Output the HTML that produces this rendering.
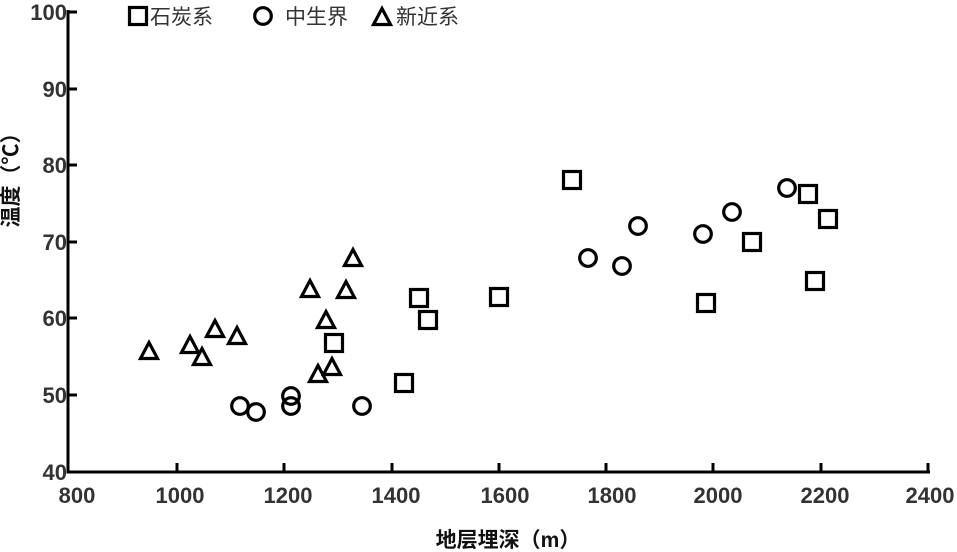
<!DOCTYPE html>
<html><head><meta charset="utf-8"><style>
body{margin:0;background:#fff}
svg{display:block}
text{font-family:"Liberation Sans","Noto Sans CJK SC",sans-serif}
</style></head><body>
<svg width="957" height="552" xmlns="http://www.w3.org/2000/svg">
<defs>
<rect id="s" x="-8.5" y="-8.5" width="17" height="17" fill="none" stroke="#000" stroke-width="3.2"/>
<circle id="c" r="8.3" fill="none" stroke="#000" stroke-width="3.2"/>
<polygon id="t" points="0,-9.5 8.5,6.5 -8.5,6.5" fill="none" stroke="#000" stroke-width="3.2" stroke-linejoin="miter"/>
</defs>
<g stroke="#000" stroke-width="3" fill="none">
<path d="M68,10 V472 H930"/>
<path d="M68,12 H77 M68,89 H77 M68,165 H77 M68,242 H77 M68,318 H77 M68,395 H77"/>
<path d="M177,472 V463 M284,472 V463 M392,472 V463 M499,472 V463 M606,472 V463 M713,472 V463 M821,472 V463 M928,472 V463"/>
</g>
<g font-size="22" font-weight="bold" fill="#333" text-anchor="end">
<text x="67" y="20">100</text><text x="67" y="97">90</text><text x="67" y="173">80</text>
<text x="67" y="250">70</text><text x="67" y="326">60</text><text x="67" y="403">50</text><text x="67" y="480">40</text>
</g>
<g font-size="22" font-weight="bold" fill="#333" text-anchor="middle">
<text x="77" y="503">800</text><text x="180" y="503">1000</text><text x="288" y="503">1200</text>
<text x="396" y="503">1400</text><text x="505" y="503">1600</text><text x="612" y="503">1800</text>
<text x="718" y="503">2000</text><text x="825" y="503">2200</text><text x="930" y="503">2400</text>
<text x="508" y="547" font-size="21" fill="#111">地层埋深（m）</text>
<text transform="translate(18,175) rotate(-90)" font-size="21" fill="#111">温度（℃）</text>
</g>
<g font-size="21" fill="#333">
<use href="#s" x="138" y="16"/><text x="150" y="24">石炭系</text>
<use href="#c" x="263" y="16"/><text x="285" y="24">中生界</text>
<use href="#t" x="382" y="18"/><text x="396" y="24">新近系</text>
</g>
<g>
<use href="#s" x="334" y="343"/><use href="#s" x="419" y="298"/><use href="#s" x="428" y="320"/>
<use href="#s" x="404" y="383"/><use href="#s" x="499" y="297"/><use href="#s" x="572" y="180"/>
<use href="#s" x="706" y="303"/><use href="#s" x="752" y="242"/><use href="#s" x="808" y="194"/>
<use href="#s" x="815" y="281"/><use href="#s" x="828" y="219"/>
<use href="#c" x="240" y="406"/><use href="#c" x="256" y="412"/><use href="#c" x="291" y="396"/>
<use href="#c" x="291" y="406"/><use href="#c" x="362" y="406"/><use href="#c" x="588" y="258"/>
<use href="#c" x="622" y="266"/><use href="#c" x="638" y="226"/><use href="#c" x="703" y="234"/>
<use href="#c" x="732" y="212"/><use href="#c" x="787" y="188"/>
<use href="#t" x="149" y="352"/><use href="#t" x="190" y="346"/><use href="#t" x="202" y="358"/>
<use href="#t" x="215" y="330"/><use href="#t" x="237" y="337"/><use href="#t" x="310" y="290"/>
<use href="#t" x="326" y="321"/><use href="#t" x="318" y="375"/><use href="#t" x="332" y="368"/>
<use href="#t" x="346" y="291"/><use href="#t" x="353" y="259"/>
</g>
</svg>
</body></html>
